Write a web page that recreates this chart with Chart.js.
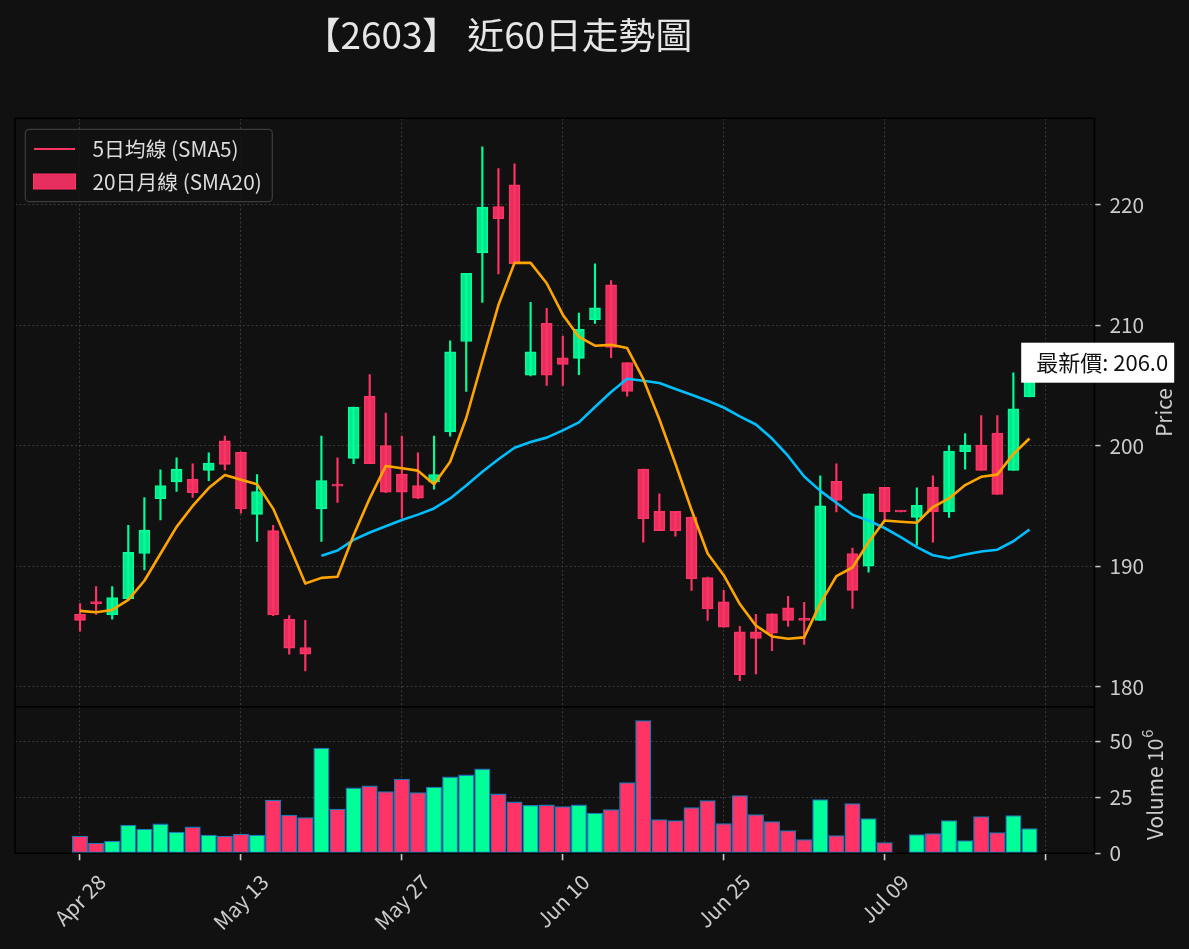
<!DOCTYPE html>
<html>
<head>
<meta charset="utf-8">
<script src="https://cdn.jsdelivr.net/npm/chart.js@4.4.1/dist/chart.umd.min.js"></script>
<style>
  html, body { margin: 0; padding: 0; background: #111111; }
  #wrap { position: relative; width: 1189px; height: 949px; overflow: hidden; }
  #pricebox { position: absolute; left: 0; top: 0; width: 1189px; height: 707px; }
  #volbox { position: absolute; left: 0; top: 707px; width: 1189px; height: 242px; }
</style>
</head>
<body>
<div id="wrap">
  <div id="pricebox"><canvas id="priceChart"></canvas></div>
  <div id="volbox"><canvas id="volChart"></canvas></div>
</div>
<script>
// 60 trading days, index 0 = Apr 28
const opens = [186.0, 186.95, 185.95, 187.3, 191.05, 195.6, 197.0, 197.2, 197.95, 200.4,
  199.45, 194.3, 192.95, 185.6, 183.25, 194.75, 196.7, 198.95, 204.1, 200.0,
  197.65, 196.7, 197.0, 201.15, 208.65, 216.0, 219.85, 221.65, 205.85, 210.15,
  207.3, 207.25, 210.45, 213.35, 206.9, 198.05, 194.55, 194.55, 194.05, 189.05,
  187.05, 184.55, 184.55, 186.05, 186.55, 185.55, 185.5, 197.05, 191.05, 190.0,
  196.55, 194.55, 194.05, 196.55, 194.5, 199.5, 200.05, 201.05, 197.95, 204.05];
const highs = [186.9, 188.3, 188.3, 193.4, 195.7, 198.0, 199.0, 198.5, 199.4, 200.8,
  199.5, 197.6, 193.4, 185.9, 185.5, 200.8, 199.0, 203.2, 205.9, 202.7,
  200.8, 199.4, 200.8, 208.7, 214.3, 224.8, 223.0, 223.4, 211.9, 211.4,
  209.1, 211.0, 215.1, 213.7, 206.9, 198.05, 196.0, 194.55, 194.1, 189.1,
  188.0, 185.0, 186.0, 186.05, 187.5, 187.0, 197.5, 198.5, 191.5, 196.0,
  196.55, 194.55, 196.5, 197.5, 200.0, 201.0, 202.5, 202.5, 206.05, 206.0];
const lows = [184.6, 186.0, 185.6, 187.2, 189.7, 193.85, 196.2, 195.7, 197.1, 198.0,
  194.4, 192.05, 185.9, 182.7, 181.3, 192.05, 195.3, 198.5, 198.5, 196.1,
  194.0, 195.6, 196.4, 200.8, 204.5, 211.9, 214.25, 215.1, 205.8, 205.0,
  205.0, 205.9, 210.15, 207.3, 204.1, 192.0, 192.95, 192.5, 188.0, 185.5,
  184.95, 180.5, 181.05, 183.0, 185.0, 183.5, 185.5, 194.5, 186.5, 189.5,
  193.85, 194.5, 191.75, 192.0, 194.05, 198.05, 197.95, 195.95, 197.95, 204.05];
const closes = [185.5, 186.9, 187.4, 191.15, 193.0, 196.7, 198.05, 196.1, 198.55, 198.45,
  194.75, 196.2, 185.95, 183.2, 182.7, 197.1, 196.65, 203.2, 198.5, 196.15,
  196.15, 195.65, 197.6, 207.8, 214.3, 219.8, 218.85, 215.1, 207.8, 205.85,
  206.75, 209.65, 211.45, 208.15, 204.5, 193.95, 192.95, 192.95, 188.95, 186.45,
  184.95, 181.0, 184.0, 184.45, 185.5, 185.5, 195.0, 195.45, 188.0, 196.0,
  194.5, 194.5, 195.05, 194.5, 199.55, 200.05, 197.95, 195.95, 203.05, 206.0];
// volume in millions
const volumes = [7.74, 4.61, 5.5, 12.65, 10.86, 13.1, 9.52, 11.76, 8.18, 7.74,
  8.63, 8.18, 23.81, 17.11, 15.92, 47.02, 19.79, 29.17, 30.06, 27.53,
  33.18, 27.08, 29.61, 34.08, 34.97, 37.65, 26.49, 22.92, 21.43, 21.58,
  20.83, 21.58, 18.0, 19.49, 31.55, 59.23, 15.03, 14.58, 20.39, 23.51,
  13.24, 25.74, 17.26, 14.14, 10.12, 6.1, 23.96, 7.89, 22.17, 15.48,
  4.76, null, 8.33, 8.78, 14.58, 5.65, 16.37, 9.23, 16.82, 11.01];
const sma5 = [186.29, 186.18, 186.37, 187.2, 188.79, 191.03, 193.26, 195.0, 196.48, 197.57,
  197.18, 196.81, 194.78, 191.71, 188.56, 189.03, 189.12, 192.57, 195.63, 198.32,
  198.13, 197.93, 196.81, 198.67, 202.3, 207.03, 211.67, 215.17, 215.17, 213.48,
  210.87, 209.03, 208.3, 208.37, 208.1, 205.54, 202.2, 198.5, 194.66, 191.05,
  189.25, 186.86, 185.07, 184.17, 183.98, 184.09, 186.89, 189.18, 189.89, 191.99,
  193.79, 193.69, 193.61, 194.91, 195.62, 196.73, 197.42, 197.6, 199.31, 200.6];
const sma20 = [null, null, null, null, null, null, null, null, null, null,
  null, null, null, null, null, 190.86, 191.3, 192.19, 192.8, 193.31,
  193.84, 194.28, 194.79, 195.62, 196.69, 197.84, 198.88, 199.83, 200.3, 200.67,
  201.27, 201.94, 203.21, 204.46, 205.55, 205.39, 205.21, 204.7, 204.22, 203.73,
  203.17, 202.44, 201.76, 200.59, 199.15, 197.44, 196.25, 195.26, 194.27, 193.78,
  193.17, 192.41, 191.59, 190.91, 190.66, 190.97, 191.22, 191.37, 192.07, 193.05];

const tickIndex = [0, 10, 20, 30, 40, 50, 60];
const tickLabels = ['Apr 28', 'May 13', 'May 27', 'Jun 10', 'Jun 25', 'Jul 09', ''];
const priceTicks = [180, 190, 200, 210, 220];
const volTicks = [0, 25, 50];
const legendLabels = ['5日均線 (SMA5)', '20日月線 (SMA20)'];
const chartTitle = '【2603】 近60日走勢圖';

const UP = '#00ff99';
const DOWN = '#ff3366';
const FONT = "'Noto Sans CJK TC', 'Noto Sans', sans-serif";
const X_MIN = -4.04, X_MAX = 63.04;

const isUp = closes.map((c, i) => c >= opens[i]);
const candleFill = isUp.map(u => u ? 'rgba(0,255,153,0.9)' : 'rgba(255,51,102,0.9)');
const candleEdge = isUp.map(u => u ? UP : DOWN);
const xy = arr => arr.map((v, i) => ({ x: i, y: v }));

// dotted grid; in v4 the dash of grid lines lives under border.dash
const gridDots = { color: '#3a3a3a', lineWidth: 1.1 };
const noBorder = { display: false, dash: [2, 2.3] };
const setTicks = vals => s => { s.ticks = vals.map(v => ({ value: v })); };
const fixY = w => s => { s.width = w; s.paddingTop = 0; s.paddingBottom = 0; };
const fixX = h => s => { s.height = h; s.paddingLeft = 0; s.paddingRight = 0; };

function frame(chart) {
  const { ctx, chartArea: a } = chart;
  ctx.save();
  ctx.strokeStyle = '#000000';
  ctx.lineWidth = 1.5;
  ctx.strokeRect(a.left, a.top, a.right - a.left, a.bottom - a.top);
  ctx.restore();
}

const pricePlugin = {
  id: 'priceDecor',
  afterDraw(chart) {
    const { ctx } = chart;
    const xs = chart.scales.x, ys = chart.scales.y;
    frame(chart);
    ctx.save();

    // title
    ctx.font = `36.8px ${FONT}`;
    ctx.fillStyle = '#e6e6e6';
    ctx.textAlign = 'center';
    ctx.textBaseline = 'middle';
    ctx.fillText(chartTitle, 498, 35);

    // legend
    ctx.beginPath();
    ctx.roundRect(25.3, 129.3, 247, 72.4, 4);
    ctx.fillStyle = 'rgba(17,17,17,0.8)';
    ctx.fill();
    ctx.strokeStyle = '#3d3d3d';
    ctx.lineWidth = 1.2;
    ctx.stroke();
    ctx.strokeStyle = DOWN;
    ctx.lineWidth = 2;
    ctx.beginPath();
    ctx.moveTo(34, 149);
    ctx.lineTo(75, 149);
    ctx.stroke();
    ctx.fillStyle = 'rgba(255,51,102,0.9)';
    ctx.fillRect(33.5, 174, 42, 15);
    ctx.lineWidth = 1;
    ctx.strokeRect(33.5, 174, 42, 15);
    ctx.font = `20.8px ${FONT}`;
    ctx.fillStyle = '#dddddd';
    ctx.textAlign = 'left';
    ctx.fillText(legendLabels[0], 92.5, 149);
    ctx.fillText(legendLabels[1], 92.5, 182);

    // axis title
    ctx.save();
    ctx.translate(1164.5, 412.5);
    ctx.rotate(-Math.PI / 2);
    ctx.textAlign = 'center';
    ctx.fillStyle = '#cccccc';
    ctx.fillText('Price', 0, 0);
    ctx.restore();

    // latest price label
    const last = closes.length - 1;
    const px = xs.getPixelForValue(last), py = ys.getPixelForValue(closes[last]);
    const txt = '最新價: ' + closes[last].toFixed(1);
    ctx.font = `22px ${FONT}`;
    const tw = ctx.measureText(txt).width;
    const tx = px + 6.7;
    ctx.fillStyle = '#ffffff';
    ctx.fillRect(tx - 15, py - 30.7, tw + 21, 40);
    ctx.fillStyle = '#111111';
    ctx.textAlign = 'left';
    ctx.fillText(txt, tx, py - 10.7);
    ctx.restore();
  }
};

const volPlugin = {
  id: 'volDecor',
  afterDraw(chart) {
    const { ctx } = chart;
    const xs = chart.scales.x;
    frame(chart);
    ctx.save();
    ctx.font = `20.8px ${FONT}`;
    ctx.fillStyle = '#cccccc';
    ctx.textAlign = 'center';
    ctx.textBaseline = 'middle';
    tickIndex.forEach((v, k) => {
      const label = tickLabels[k];
      if (!label) return;
      const w = ctx.measureText(label).width;
      const cx = xs.getPixelForValue(v);
      const cy = (872 - 707) + (w + 18) * 0.3536;
      ctx.save();
      ctx.translate(cx, cy);
      ctx.rotate(-Math.PI / 4);
      ctx.fillText(label, 0, 0);
      ctx.restore();
    });

    ctx.save();
    ctx.translate(1155, 840 - 707);
    ctx.rotate(-Math.PI / 2);
    ctx.textAlign = 'left';
    ctx.fillText('Volume 10', 0, 0);
    const w = ctx.measureText('Volume 10').width;
    ctx.font = `14.6px ${FONT}`;
    ctx.fillText('6', w + 1, -8);
    ctx.restore();
    ctx.restore();
  }
};

new Chart(document.getElementById('priceChart'), {
  type: 'bar',
  data: {
    datasets: [
      { type: 'line', data: xy(sma5), borderColor: '#ffa500', borderWidth: 2.6,
        pointRadius: 0, tension: 0, borderJoinStyle: 'round', order: 0 },
      { type: 'line', data: xy(sma20), borderColor: '#00bfff', borderWidth: 2.6,
        pointRadius: 0, tension: 0, borderJoinStyle: 'round', order: 1 },
      { type: 'bar', data: opens.map((o, i) => ({ x: i, y: [o, closes[i]] })),
        backgroundColor: candleFill, borderColor: candleEdge, borderWidth: 1,
        borderSkipped: false, barThickness: 11, minBarLength: 2, grouped: false, order: 2 },
      { type: 'bar', data: lows.map((l, i) => ({ x: i, y: [l, highs[i]] })),
        backgroundColor: candleEdge, barThickness: 1.5, grouped: false, order: 3 }
    ]
  },
  options: {
    responsive: true,
    maintainAspectRatio: false,
    animation: false,
    events: [],
    layout: { padding: { left: 15, top: 118.3, right: 0, bottom: 0.3 } },
    plugins: { legend: { display: false }, tooltip: { enabled: false } },
    scales: {
      x: {
        type: 'linear', min: X_MIN, max: X_MAX, offset: false,
        grid: { ...gridDots, offset: false, drawTicks: false },
        border: noBorder,
        ticks: { display: false },
        afterBuildTicks: setTicks(tickIndex),
        afterFit: fixX(0)
      },
      y: {
        position: 'right', min: 178.34, max: 227.17,
        grid: { ...gridDots, drawTicks: true, tickLength: 6, tickColor: '#cccccc',
          tickWidth: 1.5, tickBorderDash: [] },
        border: noBorder,
        ticks: { color: '#cccccc', font: { family: FONT, size: 20.8 }, padding: 9 },
        afterBuildTicks: setTicks(priceTicks),
        afterFit: fixY(94.5)
      }
    }
  },
  plugins: [pricePlugin]
});

new Chart(document.getElementById('volChart'), {
  type: 'bar',
  data: {
    datasets: [{
      data: xy(volumes),
      backgroundColor: isUp.map(u => u ? UP : DOWN),
      borderColor: '#1f77b4', borderWidth: 1.3, borderSkipped: false,
      barThickness: 15.4
    }]
  },
  options: {
    responsive: true,
    maintainAspectRatio: false,
    animation: false,
    events: [],
    layout: { padding: { left: 15, top: 0, right: 0, bottom: 0 } },
    plugins: { legend: { display: false }, tooltip: { enabled: false } },
    scales: {
      x: {
        type: 'linear', min: X_MIN, max: X_MAX, offset: false,
        grid: { ...gridDots, offset: false, drawTicks: true, tickLength: 7,
          tickColor: '#cccccc', tickWidth: 1.6, tickBorderDash: [] },
        border: noBorder,
        ticks: { display: false },
        afterBuildTicks: setTicks(tickIndex),
        afterFit: fixX(95.7)
      },
      y: {
        position: 'right', min: 0, max: 65.3,
        grid: { ...gridDots, drawTicks: true, tickLength: 6, tickColor: '#cccccc',
          tickWidth: 1.5, tickBorderDash: [] },
        border: noBorder,
        ticks: { color: '#cccccc', font: { family: FONT, size: 20.8 }, padding: 9 },
        afterBuildTicks: setTicks(volTicks),
        afterFit: fixY(94.5)
      }
    }
  },
  plugins: [volPlugin]
});
</script>
</body>
</html>
